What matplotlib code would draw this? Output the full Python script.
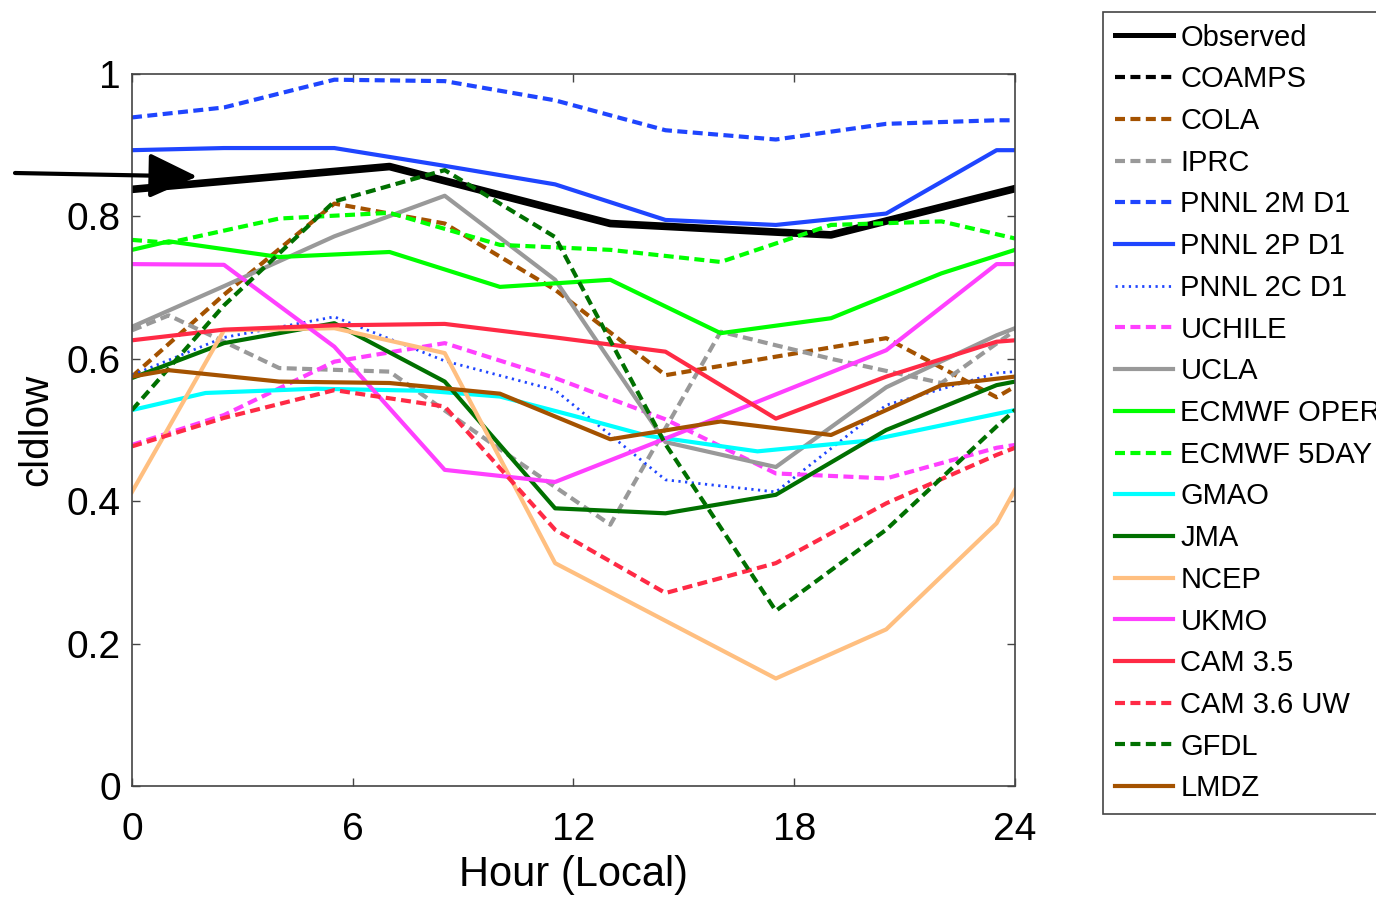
import matplotlib
matplotlib.use('Agg')
import matplotlib.pyplot as plt

plt.rcParams['font.family'] = ['Liberation Sans', 'DejaVu Sans']

# sampling hours (local) for the different model groups
hours_a = [0, 2.5, 5.5, 8.5, 11.5, 14.5, 17.5, 20.5, 23.5, 24]
hours_b = [0, 1, 4, 7, 10, 13, 16, 19, 22, 24]
hours_obs = [0, 7, 13, 19, 24]
hours_gmao = [0, 2, 5, 8, 10, 12, 14, 17, 20, 24]

observed = [0.838, 0.870, 0.790, 0.774, 0.839]
coamps = []
cola = [0.575, 0.690, 0.818, 0.790, 0.697, 0.577, 0.603, 0.629, 0.546, 0.561]
iprc = [0.640, 0.661, 0.587, 0.582, 0.473, 0.367, 0.638, 0.600, 0.566, 0.640]
pnnl_2m = [0.939, 0.953, 0.992, 0.990, 0.963, 0.921, 0.908, 0.930, 0.935, 0.935]
pnnl_2p = [0.893, 0.896, 0.896, 0.871, 0.845, 0.795, 0.788, 0.804, 0.893, 0.893]
pnnl_2c = [0.577, 0.630, 0.659, 0.597, 0.556, 0.430, 0.413, 0.535, 0.580, 0.582]
uchile = [0.479, 0.521, 0.596, 0.622, 0.573, 0.515, 0.439, 0.432, 0.475, 0.479]
ucla = [0.645, 0.702, 0.772, 0.829, 0.711, 0.483, 0.448, 0.560, 0.633, 0.643]
ecmwf_oper = [0.753, 0.765, 0.743, 0.750, 0.701, 0.711, 0.636, 0.657, 0.720, 0.753]
ecmwf_5day = [0.767, 0.763, 0.797, 0.805, 0.760, 0.753, 0.736, 0.788, 0.793, 0.769]
gmao = [0.528, 0.552, 0.558, 0.555, 0.547, 0.520, 0.492, 0.470, 0.485, 0.528]
jma = [0.573, 0.622, 0.650, 0.568, 0.390, 0.383, 0.409, 0.500, 0.563, 0.568]
ncep = [0.413, 0.640, 0.643, 0.608, 0.313, 0.232, 0.151, 0.220, 0.369, 0.416]
ukmo = [0.733, 0.732, 0.617, 0.444, 0.427, 0.488, 0.550, 0.612, 0.733, 0.733]
cam35 = [0.626, 0.641, 0.647, 0.649, 0.630, 0.610, 0.516, 0.575, 0.624, 0.626]
cam36_uw = [0.477, 0.517, 0.556, 0.533, 0.360, 0.271, 0.313, 0.397, 0.465, 0.475]
gfdl = [0.528, 0.675, 0.821, 0.865, 0.771, 0.480, 0.246, 0.360, 0.505, 0.528]
lmdz = [0.575, 0.584, 0.568, 0.566, 0.551, 0.487, 0.512, 0.493, 0.563, 0.575]

BROWN = '#a45200'
GRAY = '#999999'
BLUE = '#1f45ff'
MAGENTA = '#ff40ff'
GREEN = '#00ff00'
DKGREEN = '#007000'
RED = '#ff2a45'

DASH = (0, (2.4, 1.3))
DOT = (0, (0.8, 1.6))

series = [
    ('Observed', hours_obs, observed, 'black', '-', 5.5),
    ('COAMPS', [], coamps, 'black', DASH, 3.0),
    ('COLA', hours_a, cola, BROWN, DASH, 3.0),
    ('IPRC', hours_b, iprc, GRAY, DASH, 3.0),
    ('PNNL 2M D1', hours_a, pnnl_2m, BLUE, DASH, 3.0),
    ('PNNL 2P D1', hours_a, pnnl_2p, BLUE, '-', 3.0),
    ('PNNL 2C D1', hours_a, pnnl_2c, BLUE, DOT, 2.0),
    ('UCHILE', hours_a, uchile, MAGENTA, DASH, 3.0),
    ('UCLA', hours_a, ucla, GRAY, '-', 3.0),
    ('ECMWF OPER', hours_b, ecmwf_oper, GREEN, '-', 3.0),
    ('ECMWF 5DAY', hours_b, ecmwf_5day, GREEN, DASH, 3.0),
    ('GMAO', hours_gmao, gmao, '#00ffff', '-', 3.0),
    ('JMA', hours_a, jma, DKGREEN, '-', 3.0),
    ('NCEP', hours_a, ncep, '#ffbf80', '-', 3.0),
    ('UKMO', hours_a, ukmo, MAGENTA, '-', 3.0),
    ('CAM 3.5', hours_a, cam35, RED, '-', 3.0),
    ('CAM 3.6 UW', hours_a, cam36_uw, RED, DASH, 3.0),
    ('GFDL', hours_a, gfdl, DKGREEN, DASH, 3.0),
    ('LMDZ', hours_b, lmdz, BROWN, '-', 3.0),
]

fig = plt.figure(figsize=(13.76, 8.97), dpi=100)
ax = fig.add_axes([132 / 1376, 1 - 786 / 897, 883 / 1376, 712 / 897])

for name, h, v, color, ls, lw in series:
    ax.plot(h, v, color=color, linestyle=ls, linewidth=lw, label=name)

ax.set_xlim(0, 24)
ax.set_ylim(0, 1)
ax.set_xticks([0, 6, 12, 18, 24])
ax.set_yticks([0, 0.2, 0.4, 0.6, 0.8, 1])
ax.set_yticklabels(['0', '0.2', '0.4', '0.6', '0.8', '1'])
ax.tick_params(direction='in', length=6, width=1, color='#444444',
               top=True, right=True, labelsize=28)
ax.tick_params(axis='x', pad=19)
ax.tick_params(axis='y', pad=8)
for sp in ax.spines.values():
    sp.set_color('#444444')
    sp.set_linewidth(1.2)

ax.set_xlabel('Hour (Local)', fontsize=30, labelpad=5)
ax.set_ylabel('cldlow', fontsize=29)
ax.yaxis.set_label_coords(-0.087, 0.5)

# arrow pointing at the observed curve
ax.annotate('', xy=(1.77, 0.856), xycoords='data',
            xytext=(15 / 1376, 1 - 173 / 897), textcoords='figure fraction',
            arrowprops=dict(arrowstyle='-|>,head_length=3.0,head_width=1.4',
                            mutation_scale=10, lw=3, color='black',
                            shrinkA=0, shrinkB=0),
            annotation_clip=False)

leg = ax.legend(loc='upper left', bbox_to_anchor=(1103 / 1376, 1 - 12 / 897),
                bbox_transform=fig.transFigure, borderaxespad=0,
                fontsize=21, handlelength=2.0, handletextpad=0.25,
                labelspacing=0.47, borderpad=0.4, fancybox=False,
                framealpha=1)
leg.get_frame().set_edgecolor('#444444')
leg.get_frame().set_linewidth(1.2)
leg.get_lines()[0].set_linewidth(3.6)

fig.savefig('out.png', dpi=100)
